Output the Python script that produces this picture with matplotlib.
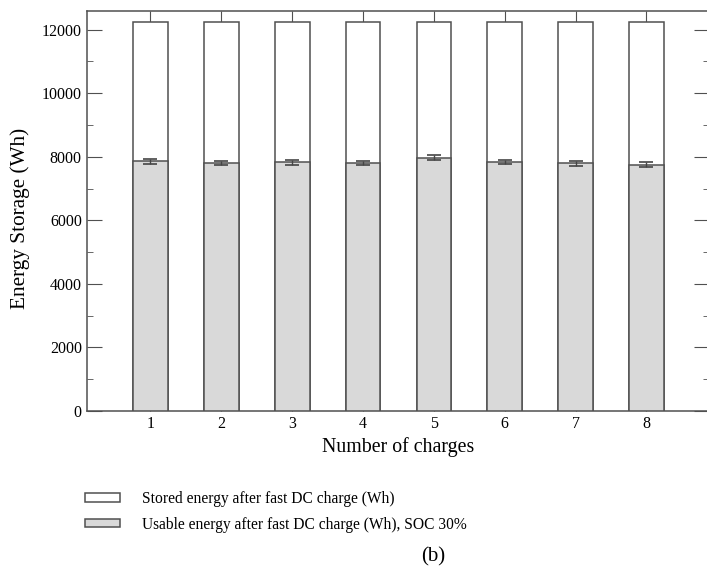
import numpy as np
import matplotlib.pyplot as plt
from matplotlib.ticker import MultipleLocator

# values
charges = [1, 2, 3, 4, 5, 6, 7, 8]
stored_wh = [12250, 12250, 12250, 12250, 12250, 12250, 12250, 12250]
usable_wh = [7850, 7810, 7820, 7810, 7970, 7840, 7790, 7750]
usable_err = [70, 70, 70, 70, 70, 70, 70, 70]

plt.rcParams['font.family'] = ['Liberation Serif', 'DejaVu Serif']

fig = plt.figure(figsize=(7.07, 5.66), dpi=100)
ax = fig.add_axes([0.1226, 0.2739, 0.88, 0.7075])

edge = '#505050'
ax.bar(charges, stored_wh, width=0.49, color='white', edgecolor=edge, linewidth=1.1,
       label='Stored energy after fast DC charge (Wh)', zorder=2)
ax.bar(charges, usable_wh, width=0.49, color='#d9d9d9', edgecolor=edge, linewidth=1.1,
       label='Usable energy after fast DC charge (Wh), SOC 30%', zorder=3)
ax.errorbar(charges, usable_wh, yerr=usable_err, fmt='none', ecolor='#454545',
            elinewidth=1.0, capsize=5, capthick=1.2, zorder=4)

ax.set_xlim(0.1, 8.88)
ax.set_ylim(0, 12600)
ax.set_xticks(charges)
ax.yaxis.set_major_locator(MultipleLocator(2000))
ax.yaxis.set_minor_locator(MultipleLocator(1000))
ax.tick_params(which='both', direction='in', top=True, right=True, color=edge,
               labelsize=11.5)
ax.tick_params(which='major', length=11)
ax.tick_params(which='minor', length=4)
ax.tick_params(axis='x', which='minor', bottom=False, top=False)
for s in ax.spines.values():
    s.set_color(edge)
    s.set_linewidth(1.1)

ax.set_xlabel('Number of charges', fontsize=14.3, labelpad=4)
ax.set_ylabel('Energy Storage (Wh)', fontsize=15.3)
ax.yaxis.set_label_coords(-0.091, 0.482)

fig.legend(loc='upper left', bbox_to_anchor=(71 / 707, 1 - 477 / 566), frameon=False,
           fontsize=11.2, handlelength=2.25, handleheight=0.45, handletextpad=1.39,
           labelspacing=0.62)
fig.text(433 / 707, 1 - 557 / 566, '(b)', fontsize=15, ha='center', va='center')

fig.savefig('out.png', dpi=100)
